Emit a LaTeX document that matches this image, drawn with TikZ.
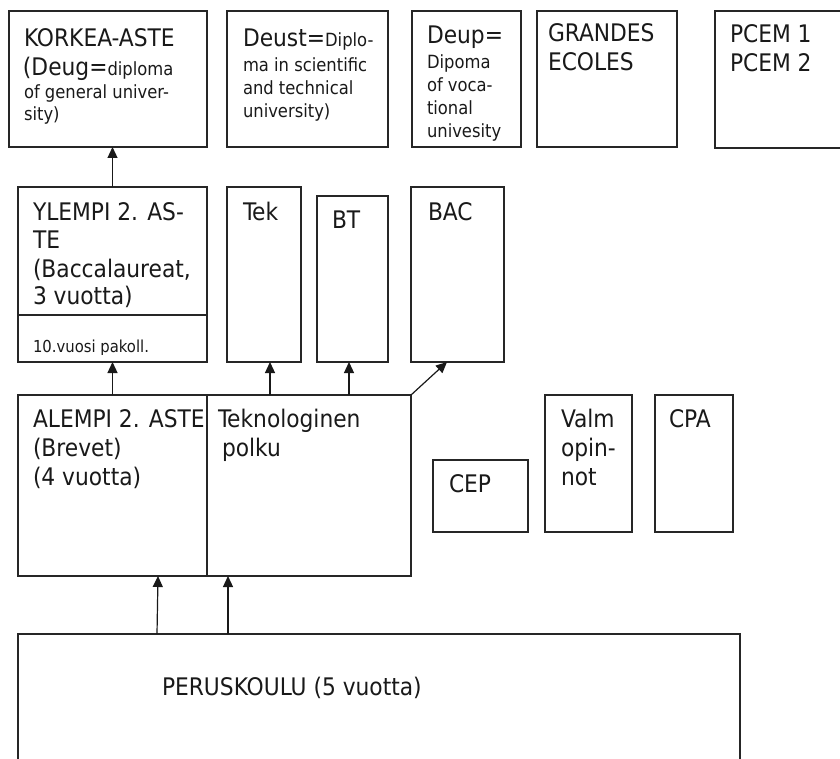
\documentclass[tikz,border=0pt]{standalone}
\usepackage{fontspec}
\setmainfont{DejaVu Sans Condensed}
\usetikzlibrary{arrows.meta}

% type sizes: 12pt body, 9pt and 8pt notes
\newcommand\lgfont{\fontsize{24.2}{29}\selectfont}
\newcommand\smfont{\fontsize{18.2}{22}\selectfont}
\newcommand\tnfont{\fontsize{16.5}{20}\selectfont}

\tikzset{
  box/.style={draw=black!85, line width=1.2pt, rectangle, inner sep=0pt,
              outer sep=0pt, anchor=north west},
  ln/.style={anchor=base west, inner sep=0pt, outer sep=0pt, font=\lgfont, text=black!90},
  sm/.style={ln, font=\smfont},
  tn/.style={ln, font=\tnfont},
  arr/.style={draw=black!90, line width=1.2pt, -{Triangle[length=11pt,width=10pt]}},
  sep/.style={draw=black!85, line width=1.2pt},
}

\begin{document}
\begin{tikzpicture}[x=1pt, y=-1pt]
\useasboundingbox (0,0) rectangle (840,759);

% ---- higher education (top row)
\node[box, minimum width=198pt, minimum height=136pt] (korkea)  at (9,11)   {};
\node[box, minimum width=161pt, minimum height=136pt] (deust)   at (227,11) {};
\node[box, minimum width=109pt, minimum height=136pt] (deup)    at (412,11) {};
\node[box, minimum width=140pt, minimum height=136pt] (grandes) at (537,11) {};
\node[box, minimum width=140pt, minimum height=137pt] (pcem)    at (715,11) {};

\node[ln] (k1) at (24,47)  {KORKEA-ASTE};
\node[ln] (k2) at (23,76)  {(Deug={\smfont diploma}};
\node[sm] (k3) at (24,99)  {of general univer-};
\node[sm] (k4) at (24,121) {sity)};

\node[ln] (d1) at (243,47)  {Deust={\smfont Diplo-}};
\node[sm] (d2) at (243,72)  {ma in scientific};
\node[sm] (d3) at (243,95)  {and technical};
\node[sm] (d4) at (243,118) {university)};

\node[ln] (p1) at (427,44)  {Deup=};
\node[sm] (p2) at (427,69)  {Dipoma};
\node[sm] (p3) at (427,92)  {of voca-};
\node[sm] (p4) at (427,115) {tional};
\node[sm] (p5) at (427,138) {univesity};

\node[ln] (g1) at (548,42) {GRANDES};
\node[ln] (g2) at (548,71) {ECOLES};

\node[ln] (m1) at (730,43) {PCEM 1};
\node[ln] (m2) at (730,72) {PCEM 2};

% ---- upper secondary
\node[box, minimum width=189pt, minimum height=175pt] (ylempi) at (18,187)  {};
\node[box, minimum width=74pt,  minimum height=175pt] (tek)    at (227,187) {};
\node[box, minimum width=71pt,  minimum height=166pt] (bt)     at (317,196) {};
\node[box, minimum width=93pt,  minimum height=175pt] (bac)    at (411,187) {};
\draw[sep] (ylempi.west |- 0,315) -- (ylempi.east |- 0,315);

\node[ln] (y1) at (33,221) {YLEMPI 2. AS-};
\node[ln] (y2) at (33,249) {TE};
\node[ln] (y3) at (33,277) {(Baccalaureat,};
\node[ln] (y4) at (33,304) {3 vuotta)};
\begin{scope}
  \clip (19,316) rectangle (206,354);
  \node[tn] (y5) at (33,352) {10.vuosi pakoll.};
\end{scope}

\node[ln] (t1) at (243,221) {Tek};
\node[ln] (b1) at (332,229) {BT};
\node[ln] (c1) at (428,221) {BAC};

% ---- lower secondary and vocational
\node[box, minimum width=393pt, minimum height=181pt] (alempi) at (18,395)  {};
\draw[sep] (207,0 |- alempi.north) -- (207,0 |- alempi.south);
\node[box, minimum width=95pt,  minimum height=72pt]  (cep)    at (433,460) {};
\node[box, minimum width=87pt,  minimum height=137pt] (valm)   at (545,395) {};
\node[box, minimum width=78pt,  minimum height=137pt] (cpa)    at (655,395) {};

\node[ln] (a1) at (33,427) {ALEMPI 2. ASTE};
\node[ln] (a2) at (33,456) {(Brevet)};
\node[ln] (a3) at (33,485) {(4 vuotta)};
\node[ln] (e1) at (218,427) {Teknologinen};
\node[ln] (e2) at (222,456) {polku};

\node[ln] (ce1) at (449,492) {CEP};
\node[ln] (v1)  at (561,427) {Valm};
\node[ln] (v2)  at (561,456) {opin-};
\node[ln] (v3)  at (561,485) {not};
\node[ln] (cp1) at (669,427) {CPA};

% ---- primary school
\node[box, minimum width=722pt, minimum height=150pt] (perus) at (18,634) {};
\node[ln] (r1) at (162,695) {PERUSKOULU (5 vuotta)};

% ---- connectors
\draw[arr] (ylempi.north) -- (ylempi.north |- korkea.south);
\draw[arr] (alempi.north -| ylempi.south) -- (ylempi.south);
\draw[arr] ([xshift=6pt]tek.south |- alempi.north) -- ([xshift=6pt]tek.south);
\draw[arr] ([xshift=-3.5pt]bt.south |- alempi.north) -- ([xshift=-3.5pt]bt.south);
\draw[arr] (alempi.north east) -- ([xshift=-10.5pt]bac.south);
\draw[arr] (157,0 |- perus.north) -- (158,0 |- alempi.south);
\draw[arr] (228,0 |- perus.north) -- (228,0 |- alempi.south);
\end{tikzpicture}
\end{document}
